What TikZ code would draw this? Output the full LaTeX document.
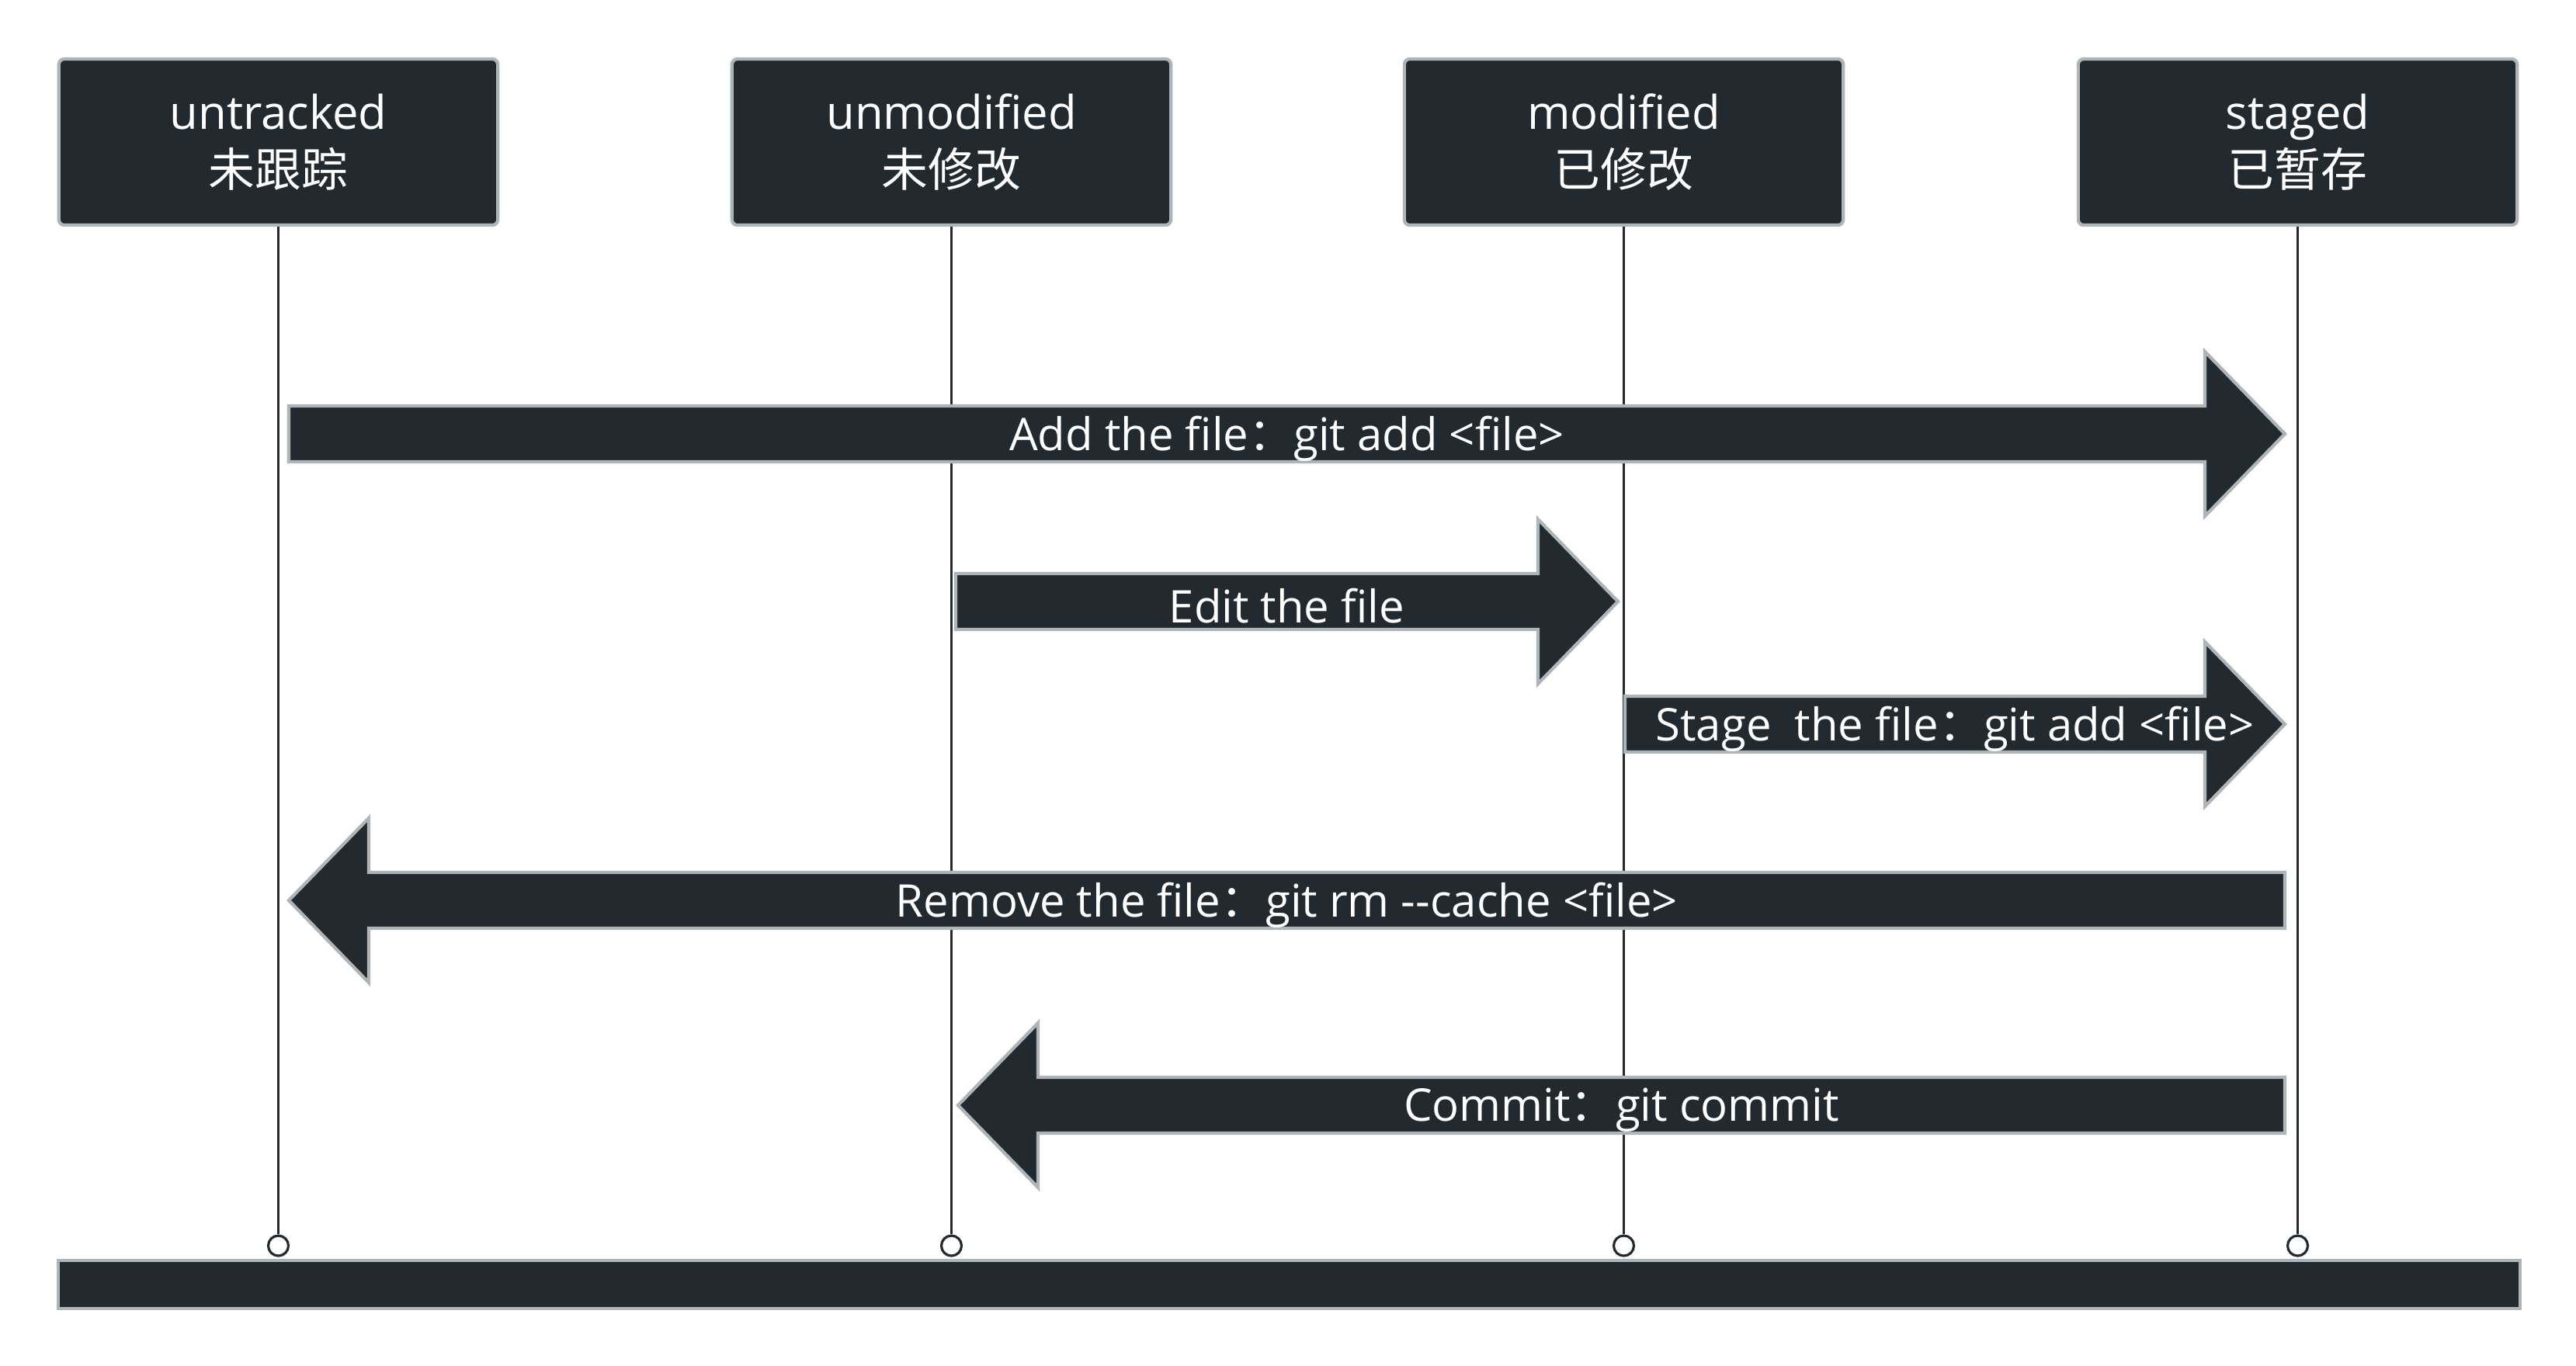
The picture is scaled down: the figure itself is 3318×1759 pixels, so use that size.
\documentclass[tikz,border=0pt]{standalone}
\usepackage{fontspec}
\setmainfont{Open Sans}
\newfontfamily\cjk{Noto Sans CJK SC}
\definecolor{dark}{HTML}{22292F}
\definecolor{edge}{HTML}{AEB5B8}
\newcommand\fwc{{\cjk ：}}
\begin{document}
\begin{tikzpicture}[x=0.01cm,y=-0.01cm,
  state/.style={draw=edge, line width=1.2pt, fill=dark, rounded corners=2pt,
    minimum width=5.65cm, minimum height=2.14cm, text=white,
    font=\fontsize{17}{21}\selectfont, align=center, inner sep=0pt},
  life/.style={draw=dark, line width=0.9pt},
  endpt/.style={circle, draw=dark, fill=white, line width=0.9pt,
    minimum size=0.26cm, inner sep=0pt},
  flow/.style={fill=dark, draw=edge, line width=1.2pt, line join=miter},
  flowlabel/.style={text=white, font=\fontsize{16.5}{20}\selectfont, inner sep=0pt},
  basebar/.style={draw=edge, line width=1.2pt, fill=dark,
    minimum width=31.69cm, minimum height=0.62cm, inner sep=0pt}
]
\useasboundingbox (0,0) rectangle (3318,1759);
% headers
\node[state] (untracked) at (358.5,183) {untracked\\{\cjk 未跟踪}};
\node[state] (unmodified) at (1225.5,183) {unmodified\\{\cjk 未修改}};
\node[state] (modified) at (2091.5,183) {modified\\{\cjk 已修改}};
\node[state] (staged) at (2959.5,183) {staged\\{\cjk 已暂存}};
% end points
\node[endpt] (e1) at (untracked.south |- 0,1605) {};
\node[endpt] (e2) at (unmodified.south |- 0,1605) {};
\node[endpt] (e3) at (modified.south |- 0,1605) {};
\node[endpt] (e4) at (staged.south |- 0,1605) {};
% lifelines
\draw[life] (untracked.south) -- (e1.north);
\draw[life] (unmodified.south) -- (e2.north);
\draw[life] (modified.south) -- (e3.north);
\draw[life] (staged.south) -- (e4.north);
% base bar
\node[basebar] (base) at (1660.5,1655) {};
% arrows
\newcommand\flowR[5]{%
  \draw[flow] (#1,#3-36) -- (#2-103,#3-36) -- (#2-103,#3-106) -- (#2,#3)
    -- (#2-103,#3+106) -- (#2-103,#3+36) -- (#1,#3+36) -- cycle;
  \node[flowlabel] (#5) at ({(#1+#2)/2},#3+6) {#4};}
\newcommand\flowL[5]{%
  \draw[flow] (#1,#3-36) -- (#2+103,#3-36) -- (#2+103,#3-106) -- (#2,#3)
    -- (#2+103,#3+106) -- (#2+103,#3+36) -- (#1,#3+36) -- cycle;
  \node[flowlabel] (#5) at ({(#1+#2)/2},#3+6) {#4};}
\flowR{372}{2943}{559}{Add the file\fwc git add <file>}{add}
\flowR{1231}{2084}{775}{Edit the file}{edit}
\flowR{2093}{2943}{933}{Stage\ \ the file\fwc git add <file>}{stage}
\flowL{2943}{372}{1160}{Remove the file\fwc git rm -{}-cache <file>}{remove}
\flowL{2943}{1234}{1424}{Commit\fwc git commit}{commit}
\end{tikzpicture}
\end{document}
